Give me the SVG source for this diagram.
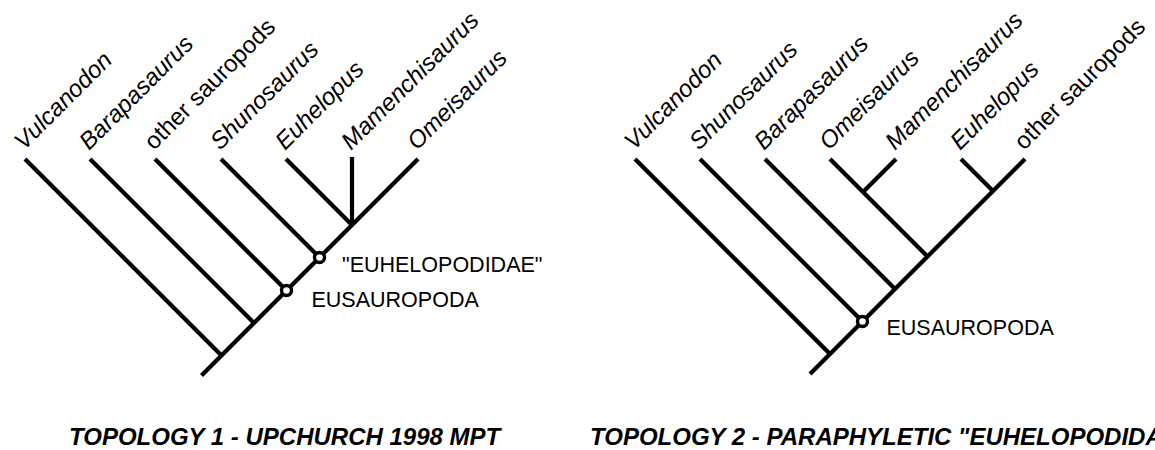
<svg xmlns="http://www.w3.org/2000/svg" width="1155" height="450" viewBox="0 0 1155 450">
<style>
.br{stroke:#000;stroke-width:4.2;fill:none;stroke-linecap:butt}
.tx{font-family:"Liberation Sans",Arial,sans-serif;font-size:24px;fill:#000}
.it{font-style:italic}
.cl{font-family:"Liberation Sans",Arial,sans-serif;font-size:21.5px;fill:#000}
.nd{fill:#fff;stroke:#000;stroke-width:3.4}
.ti{font-family:"Liberation Sans",Arial,sans-serif;font-size:24px;font-weight:bold;font-style:italic;fill:#000}
</style>
<rect width="1155" height="450" fill="#fff"/>
<g id="connectors">
  <path class="br" d="M201.5,375.5 L418,159"/>
  <path class="br" d="M25,159 L221.5,355.5"/>
  <path class="br" d="M90,159 L254,323"/>
  <path class="br" d="M155,159 L286.5,290.5"/>
  <path class="br" d="M221,159 L319.5,257.5"/>
  <path class="br" d="M286,159 L352,225"/>
  <path class="br" d="M352,157 L352,225"/>
  <path class="br" d="M810,374 L1025,159"/>
  <path class="br" d="M635,159 L830,354"/>
  <path class="br" d="M700,159 L862.5,321.5"/>
  <path class="br" d="M765,159 L895,289"/>
  <path class="br" d="M830,159 L927.5,256.5"/>
  <path class="br" d="M896,159 L863,192"/>
  <path class="br" d="M961,159 L993,191"/>
</g>
<g id="t1-vulcanodon"><text class="tx it" transform="translate(24,151) rotate(-45)">Vulcanodon</text></g>
<g id="t1-barapasaurus"><text class="tx it" transform="translate(89,151) rotate(-45)">Barapasaurus</text></g>
<g id="t1-other"><text class="tx" transform="translate(154,151) rotate(-45)">other sauropods</text></g>
<g id="t1-shunosaurus"><text class="tx it" transform="translate(220,151) rotate(-45)">Shunosaurus</text></g>
<g id="t1-euhelopus"><text class="tx it" transform="translate(285,151) rotate(-45)">Euhelopus</text></g>
<g id="t1-mamenchisaurus"><text class="tx it" transform="translate(351,151) rotate(-45)">Mamenchisaurus</text></g>
<g id="t1-omeisaurus"><text class="tx it" transform="translate(417,151) rotate(-45)">Omeisaurus</text></g>
<g id="t1-eusauropoda"><circle class="nd" cx="286.5" cy="290.5" r="5"/><text class="cl" x="311.5" y="306.5">EUSAUROPODA</text></g>
<g id="t1-euhelopodidae"><circle class="nd" cx="319.5" cy="257.5" r="5"/><text class="cl" x="342" y="272">"EUHELOPODIDAE"</text></g>
<g id="t2-vulcanodon"><text class="tx it" transform="translate(634,151) rotate(-45)">Vulcanodon</text></g>
<g id="t2-shunosaurus"><text class="tx it" transform="translate(699,151) rotate(-45)">Shunosaurus</text></g>
<g id="t2-barapasaurus"><text class="tx it" transform="translate(764,151) rotate(-45)">Barapasaurus</text></g>
<g id="t2-omeisaurus"><text class="tx it" transform="translate(829,151) rotate(-45)">Omeisaurus</text></g>
<g id="t2-mamenchisaurus"><text class="tx it" transform="translate(895,151) rotate(-45)">Mamenchisaurus</text></g>
<g id="t2-euhelopus"><text class="tx it" transform="translate(960,151) rotate(-45)">Euhelopus</text></g>
<g id="t2-other"><text class="tx" transform="translate(1024,151) rotate(-45)">other sauropods</text></g>
<g id="t2-eusauropoda"><circle class="nd" cx="862.5" cy="321.5" r="5"/><text class="cl" x="886.5" y="335">EUSAUROPODA</text></g>
<g id="title1"><text class="ti" x="69" y="445">TOPOLOGY 1 - UPCHURCH 1998 MPT</text></g>
<g id="title2"><text class="ti" x="590" y="445">TOPOLOGY 2 - PARAPHYLETIC "EUHELOPODIDAE"</text></g>
</svg>
